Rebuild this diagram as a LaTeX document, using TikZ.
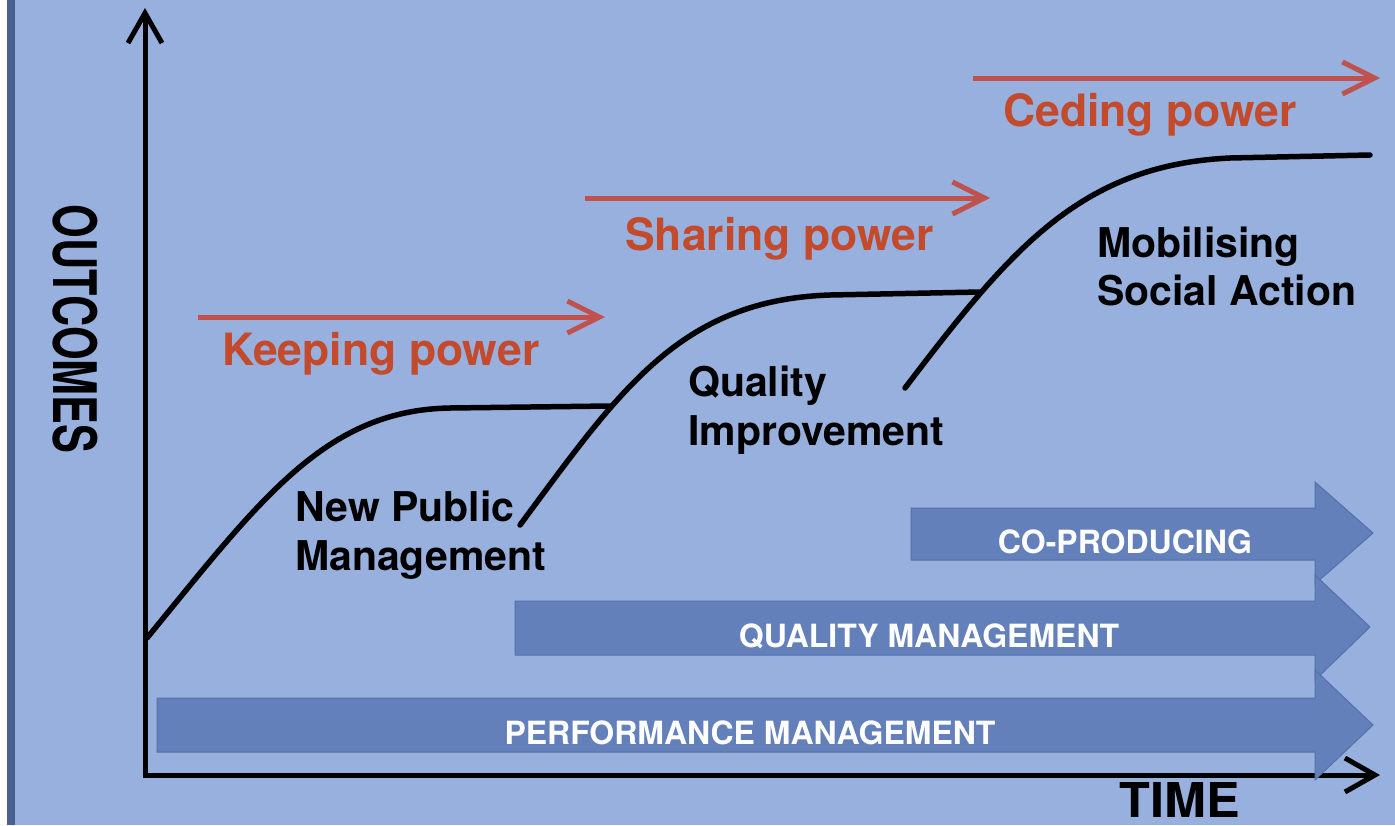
\documentclass[tikz,border=0pt]{standalone}
\usepackage{fontspec}
\setmainfont{TeX Gyre Heros}
\usetikzlibrary{arrows.meta}
\definecolor{bg}{RGB}{152,176,222}
\definecolor{strip}{RGB}{74,96,142}
\definecolor{blockfill}{RGB}{99,128,186}
\definecolor{blockline}{RGB}{86,112,170}
\definecolor{redtext}{RGB}{196,74,44}
\definecolor{redline}{RGB}{192,82,78}
\begin{document}
\begin{tikzpicture}[x=1pt,y=-1pt,
  axisline/.style={line width=5pt,black,-{Straight Barb[length=30pt,width=34pt]}},
  curveline/.style={line width=5.5pt,black,line cap=round},
  redarrow/.style={line width=5pt,redline,-{Straight Barb[length=32pt,width=32pt]}},
  blockarrow/.style={fill=blockfill,draw=blockline,line width=1pt},
  blocktext/.style={text=white,font=\bfseries\fontsize{32}{34}\selectfont,inner sep=0pt,anchor=base},
  redlabel/.style={text=redtext,font=\bfseries\fontsize{44.5}{48}\selectfont,inner sep=0pt,anchor=base west},
  blacklabel/.style={text=black,font=\bfseries\fontsize{41}{46}\selectfont,inner sep=0pt,anchor=base west}]
\useasboundingbox (0,0) rectangle (1395,825);
\fill[white] (0,0) rectangle (7,825);
\fill[strip] (7,0) rectangle (15,825);
\fill[bg] (15,0) rectangle (1395,825);

% axes
\coordinate (O) at (145,775);
\coordinate (ytip) at (145,8);
\coordinate (xtip) at (1380,775);
\draw[axisline] ([yshift=-2.5pt]O) -- (ytip);
\draw[axisline] ([xshift=-2.5pt]O) -- (xtip);

\node[rotate=-90,inner sep=0pt,font=\bfseries\fontsize{60}{60}\selectfont] (outcomes) at (75,329) {\scalebox{0.72}[1]{OUTCOMES}};
\node[anchor=north,inner sep=0pt,font=\bfseries\fontsize{48}{48}\selectfont] (time) at (1180,782) {\scalebox{1.05}[1]{TIME}};

% curves
\coordinate (c1s) at (147,638);
\coordinate (c1e) at (610,406);
\draw[curveline] (c1s) .. controls (260,500) and (325,410) .. (450,408) -- (c1e);
\coordinate (c2s) at (520,525);
\coordinate (c2e) at (980,292);
\draw[curveline] (c2s) .. controls (620,390) and (680,300) .. (830,295) -- (c2e);
\coordinate (c3s) at (905,388);
\coordinate (c3e) at (1370,155);
\draw[curveline] (c3s) .. controls (1010,250) and (1080,165) .. (1230,158) -- (c3e);

% red arrows and labels
\coordinate (r1s) at (198,317); \coordinate (r1e) at (605,317);
\coordinate (r2s) at (585,198); \coordinate (r2e) at (990,198);
\coordinate (r3s) at (973,78);  \coordinate (r3e) at (1380,78);
\draw[redarrow] (r1s) -- (r1e);
\draw[redarrow] (r2s) -- (r2e);
\draw[redarrow] (r3s) -- (r3e);
\node[redlabel] (keep) at (222,365) {Keeping power};
\node[redlabel] (share) at (625,250) {Sharing power};
\node[redlabel] (cede) at (1003,126) {Ceding power};

% black labels
\node[blacklabel] (npm1) at (295,521) {New Public};
\node[blacklabel] (npm2) at (295,570) {Management};
\node[blacklabel] (qi1) at (688,396) {Quality};
\node[blacklabel] (qi2) at (688,445) {Improvement};
\node[blacklabel] (msa1) at (1097,257) {Mobilising};
\node[blacklabel] (msa2) at (1097,305) {Social Action};

% block arrows
\draw[blockarrow] (911,508) -- (1315,508) -- (1315,482) -- (1373,533) -- (1315,584) -- (1315,560) -- (911,560) -- cycle;
\draw[blockarrow] (515,601) -- (1315,601) -- (1315,575) -- (1370,627) -- (1315,680) -- (1315,655) -- (515,655) -- cycle;
\draw[blockarrow] (157,698) -- (1315,698) -- (1315,670) -- (1373,725) -- (1315,780) -- (1315,752) -- (157,752) -- cycle;
\node[blocktext] (cop) at (1125,553) {CO-PRODUCING};
\node[blocktext] (qm) at (929,647) {QUALITY MANAGEMENT};
\node[blocktext] (pm) at (750,744) {PERFORMANCE MANAGEMENT};
\end{tikzpicture}
\end{document}
